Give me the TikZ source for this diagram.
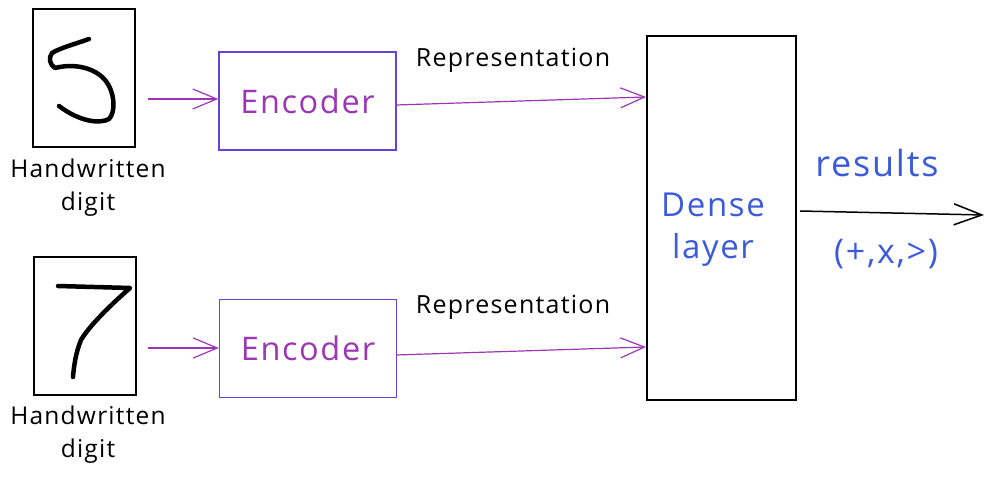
\documentclass[tikz,border=0pt]{standalone}
\usepackage{fontspec}
\setmainfont{Open Sans}[LetterSpace=5]
\usetikzlibrary{arrows.meta}
\definecolor{vio}{HTML}{9C36B5}
\definecolor{encb}{HTML}{6741D9}
\definecolor{blu}{HTML}{3B5BDB}
\newcommand{\fs}[2]{\fontsize{#1}{#2}\selectfont}
\tikzset{
  imgbox/.style={draw=black, line width=1.3pt, minimum width=102pt, minimum height=138pt, inner sep=0pt},
  encbox/.style={draw=encb, line width=1.4pt, minimum width=177pt, minimum height=98pt, inner sep=0pt, text=vio, font=\fs{32.5}{34}},
  densebox/.style={draw=black, line width=1.3pt, minimum width=149pt, minimum height=364pt, inner sep=0pt},
  lbl/.style={inner sep=0pt, align=center},
  varrow/.style={draw=vio, line width=1.2pt, -{Straight Barb[length=24pt,width=20pt,line width=1.2pt]}},
  karrow/.style={draw=black, line width=1.5pt, -{Straight Barb[length=28pt,width=21pt,line width=1.5pt]}},
  digit/.style={line width=4.5pt, line cap=round, line join=round}
}
\begin{document}
\begin{tikzpicture}[x=1pt,y=-1pt]
\useasboundingbox (0,0) rectangle (994,481);
% image boxes
\node[imgbox] (img1) at (84,78) {};
\node[imgbox] (img2) at (85,326) {};
% digit 5
\draw[digit] (89,39) .. controls (75,44) and (60,48) .. (52,53)
  .. controls (48,58) and (50,65) .. (55,68)
  .. controls (75,63) and (95,68) .. (105,80)
  .. controls (115,92) and (116,112) .. (109,119)
  .. controls (100,124) and (80,122) .. (59,106);
% digit 7
\draw[digit] (58,286) -- (130,288) .. controls (105,310) and (88,328) .. (81,340) .. controls (76,352) and (74,365) .. (73,377);
% labels under images
\node[lbl, font=\fs{24.5}{33}, text=black] (hw1) at (88,188) {Handwritten\\digit};
\node[lbl, font=\fs{24.5}{33}, text=black] (hw2) at (88,435) {Handwritten\\digit};
% encoders
\node[encbox] (enc1) at (307.5,101) {Encoder};
\node[encbox] (enc2) at (308,348.5) {Encoder};
% dense
\node[densebox] (dense) at (721.5,218) {};
\node[lbl, font=\fs{33}{42}, text=blu] (dtext) at (713,230) {Dense\\layer};
% arrows
\coordinate (a1s) at (148,99);
\coordinate (a2s) at (148,348);
\draw[varrow] (a1s) -- (enc1.west |- a1s);
\draw[varrow] (a2s) -- (enc2.west |- a2s);
\coordinate (r1s) at (396,105);
\coordinate (r1e) at (646,97);
\coordinate (r2s) at (396,355);
\coordinate (r2e) at (646,347);
\draw[varrow] (r1s) -- (r1e);
\draw[varrow] (r2s) -- (r2e);
\node[lbl, font=\fs{25}{26}, text=black] (rep1) at (513,60) {Representation};
\node[lbl, font=\fs{25}{26}, text=black] (rep2) at (513,307) {Representation};
% output
\coordinate (os) at (800,211);
\coordinate (oe) at (984,215);
\draw[karrow] (os) -- (oe);
\node[lbl, font=\fs{36}{36}, text=blu] (res) at (877,163) {results};
\node[lbl, font=\fs{34}{34}, text=blu] (ops) at (886,254) {(+,x,>)};
\end{tikzpicture}
\end{document}
